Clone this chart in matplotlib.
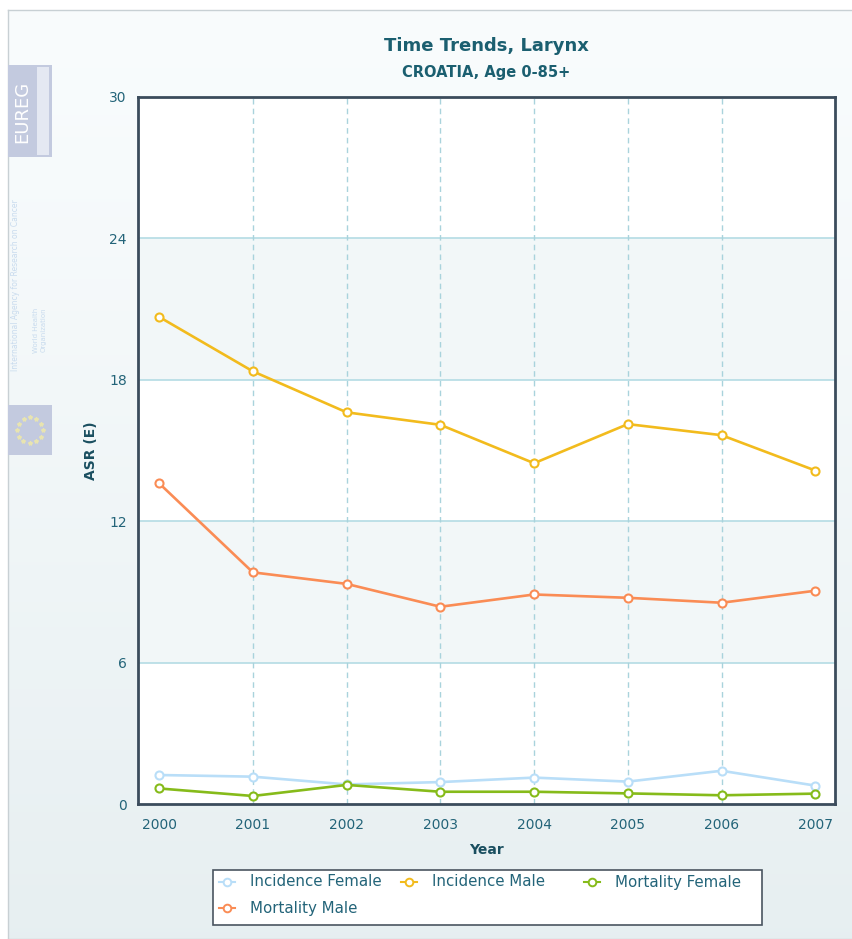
import matplotlib
matplotlib.use("Agg")
import matplotlib.pyplot as plt
import numpy as np
from matplotlib.patches import Rectangle

years = [2000, 2001, 2002, 2003, 2004, 2005, 2006, 2007]
incidence_female = [1.23, 1.16, 0.83, 0.93, 1.12, 0.95, 1.41, 0.78]
incidence_male = [20.67, 18.36, 16.62, 16.09, 14.46, 16.12, 15.65, 14.15]
mortality_female = [0.66, 0.34, 0.81, 0.52, 0.52, 0.45, 0.37, 0.44]
mortality_male = [13.61, 9.83, 9.34, 8.37, 8.89, 8.75, 8.54, 9.05]
yticks = [0, 6, 12, 18, 24, 30]

W, H = 853, 939
fig = plt.figure(figsize=(W / 100, H / 100), dpi=100)
fig.patch.set_facecolor("white")

def fx(x): return x / W
def fy(y): return 1 - y / H

# background gradient panel
bg = fig.add_axes([8 / W, 0, 1 - 8 / W, 1 - 10 / H], zorder=-10)
grad = np.linspace(0, 1, 256).reshape(-1, 1)
c_top = np.array([0.975, 0.988, 0.992])
c_bot = np.array([0.905, 0.937, 0.945])
img = c_top + (c_bot - c_top) * grad[..., None] ** 1.2
bg.imshow(img.reshape(256, 1, 3), aspect="auto", extent=[0, 1, 0, 1])
bg.set_xlim(0, 1); bg.set_ylim(0, 1)
bg.set_xticks([]); bg.set_yticks([])
for s in bg.spines.values():
    s.set_color("#c8d0d4"); s.set_linewidth(1)

# left logos (faint)
fig.patches.append(Rectangle((fx(8), fy(157)), fx(44), 92 / H, transform=fig.transFigure,
                             facecolor="#c3cadf", edgecolor="none", zorder=-5))
fig.text(fx(22), fy(112), "EUREG", rotation=90, color="white", fontsize=13,
         ha="center", va="center", zorder=-4)
fig.patches.append(Rectangle((fx(37), fy(155)), fx(12), 88 / H, transform=fig.transFigure,
                             facecolor="#e4e8f2", edgecolor="none", zorder=-4))
fig.text(fx(16), fy(285), "International Agency for Research on Cancer", rotation=90,
         color="#c8dbee", fontsize=5.5, ha="center", va="center", zorder=-4)
fig.text(fx(40), fy(330), "World Health\nOrganization", rotation=90,
         color="#c8dbee", fontsize=5, ha="center", va="center", zorder=-4)
fig.patches.append(Rectangle((fx(8), fy(455)), fx(44), 50 / H, transform=fig.transFigure,
                             facecolor="#c3cadf", edgecolor="none", zorder=-5))
th = np.linspace(0, 2 * np.pi, 13)[:-1]
fig.lines.append(plt.Line2D(fx(30) + fx(13) * np.cos(th), fy(430) + 13 / H * np.sin(th),
                            transform=fig.transFigure, ls="none", marker="*",
                            markersize=3, color="#e8e4b0", zorder=-4))

# main axes
left, right, top, bottom = 138, 835, 97, 804
ax = fig.add_axes([left / W, 1 - bottom / H, (right - left) / W, (bottom - top) / H])
ax.set_facecolor("white")
ax.set_ylim(0, 30)
ax.set_xlim(1999.775, 2007.21)

for i in range(len(yticks) - 1):
    if i % 2 == 1:
        ax.axhspan(yticks[i], yticks[i + 1], color="#f2f7f8", zorder=0, lw=0)
for v in yticks[1:-1]:
    ax.axhline(v, color="#b4dce4", lw=1.2, zorder=1)
for yr in years[1:-1]:
    ax.axvline(yr, color="#a9d3dc", lw=1, ls=(0, (4, 3)), zorder=1)

series = [
    ("Incidence Female", incidence_female, "#b9def8"),
    ("Incidence Male", incidence_male, "#f2bb1d"),
    ("Mortality Female", mortality_female, "#86bb1a"),
    ("Mortality Male", mortality_male, "#fa8c55"),
]
colors = {}
for name, vals, col in series:
    ax.plot(years, vals, color=col, lw=1.9, marker="o", markersize=5.8,
            markerfacecolor="white", markeredgecolor=col, markeredgewidth=1.5,
            zorder=3, label=name, clip_on=False)
    colors[name] = col

ax.set_yticks(yticks)
ax.set_xticks(years)
tick_col = "#236479"
ax.tick_params(axis="both", length=0, labelsize=10, colors=tick_col)
ax.tick_params(axis="x", pad=10)
ax.tick_params(axis="y", pad=8)
for s in ax.spines.values():
    s.set_color("#3b4c5c"); s.set_linewidth(2)

ax.set_xlabel("Year", fontsize=10, fontweight="bold", color="#1a4f60", labelpad=8)
ax.set_ylabel("ASR (E)", fontsize=10, fontweight="bold", color="#1a4f60", labelpad=8)

fig.text(0.5 * (left + right) / W, fy(46), "Time Trends, Larynx", ha="center", va="center",
         fontsize=13, fontweight="bold", color="#1b5f70")
fig.text(0.5 * (left + right) / W, fy(72), "CROATIA, Age 0-85+", ha="center", va="center",
         fontsize=10.5, fontweight="bold", color="#1b5f70")

# legend (fixed-width columns, row-major like the reference)
fig.patches.append(Rectangle((fx(213), fy(925)), fx(762 - 213), 55 / H, transform=fig.transFigure,
                             facecolor="white", edgecolor="#4a5560", lw=1.2, zorder=5))
legend_names = ["Incidence Female", "Incidence Male", "Mortality Female", "Mortality Male"]
col_x = [227, 409, 592]
row_y = [882, 908]
for i, n in enumerate(legend_names):
    cx = col_x[i % 3]
    cy = row_y[i // 3]
    col = colors[n]
    fig.lines.append(plt.Line2D([fx(cx - 8), fx(cx + 8)], [fy(cy), fy(cy)],
                                transform=fig.transFigure, color=col, lw=1.5, zorder=6))
    fig.lines.append(plt.Line2D([fx(cx)], [fy(cy)], transform=fig.transFigure, ls="none",
                                marker="o", markersize=5.5, markerfacecolor="white",
                                markeredgecolor=col, markeredgewidth=1.4, zorder=7))
    fig.text(fx(cx + 23), fy(cy), n, ha="left", va="center", fontsize=10.8,
             color="#236479", zorder=7)

fig.savefig("out.png", dpi=100)
